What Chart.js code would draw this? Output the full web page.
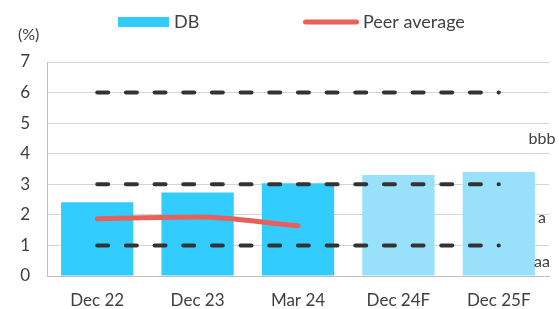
<!DOCTYPE html>
<html>
<head>
<meta charset="utf-8">
<script src="https://cdn.jsdelivr.net/npm/chart.js@4.4.0/dist/chart.umd.min.js"></script>
<style>
  html, body { margin: 0; padding: 0; background: #fff; }
  #wrap { width: 559px; height: 309px; }
</style>
</head>
<body>
<div id="wrap"><canvas id="myChart"></canvas></div>
<script>
var categories = ['Dec 22', 'Dec 23', 'Mar 24', 'Dec 24F', 'Dec 25F'];
var dbValues = [2.41, 2.73, 3.03, 3.3, 3.4];
var peerAverage = [1.87, 1.93, 1.64, null, null];
var ratingLines = [6, 3, 1];
var ratingLabels = ['bbb', 'a', 'aa'];
var ratingLabelValues = [4.5, 1.9, 0.45];
var yTicks = [0, 1, 2, 3, 4, 5, 6, 7];

var barColors = ['#33ccff', '#33ccff', '#33ccff', '#99e1fb', '#99e1fb'];
var textColor = '#404040';

// dashed rating lines, one dataset each
var dashSets = ratingLines.map(function (v) {
    return {
        type: 'line',
        label: 'rating ' + v,
        data: categories.map(function () { return v; }),
        borderColor: '#333333',
        borderWidth: 4,
        borderDash: [11, 17.67],
        borderCapStyle: 'round',
        pointRadius: 0,
        fill: false,
        order: 0
    };
});

// legend, "(%)" and the rating names on the right
var extraText = {
    id: 'extraText',
    afterDraw: function (chart) {
        var ctx = chart.ctx;
        var y = chart.scales.y;
        var ds = chart.data.datasets;
        ctx.save();
        ctx.textBaseline = 'middle';

        ctx.fillStyle = '#33ccff';
        ctx.fillRect(118, 17, 51, 10);
        ctx.strokeStyle = '#e8605a';
        ctx.lineWidth = 5;
        ctx.lineCap = 'round';
        ctx.beginPath();
        ctx.moveTo(305.5, 22);
        ctx.lineTo(356.5, 22);
        ctx.stroke();

        ctx.fillStyle = textColor;
        ctx.font = '18px Lato';
        ctx.textAlign = 'left';
        ctx.fillText(ds[0].label, 174, 22);
        ctx.fillText(ds[1].label, 363, 22);

        ctx.font = '16px Lato';
        ctx.fillText('(%)', 18, 35);

        ctx.textAlign = 'center';
        for (var i = 0; i < ratingLabels.length; i++) {
            ctx.fillText(ratingLabels[i], 542, y.getPixelForValue(ratingLabelValues[i]));
        }
        ctx.restore();
    }
};

window.onload = function () {
    var ctx = document.getElementById('myChart').getContext('2d');
    var myChart = new Chart(ctx, {
        type: 'bar',
        data: {
            labels: categories,
            datasets: [{
                label: 'DB',
                data: dbValues,
                backgroundColor: barColors,
                borderWidth: 0,
                categoryPercentage: 0.72,
                barPercentage: 1,
                order: 2
            }, {
                type: 'line',
                label: 'Peer average',
                data: peerAverage,
                borderColor: '#e8605a',
                borderWidth: 5,
                borderCapStyle: 'round',
                cubicInterpolationMode: 'monotone',
                pointRadius: 0,
                fill: false,
                order: 1
            }].concat(dashSets)
        },
        options: {
            responsive: true,
            maintainAspectRatio: false,
            animation: false,
            layout: { padding: { left: 0, right: 10, top: 62, bottom: 0 } },
            plugins: {
                tooltip: { enabled: false },
                legend: { display: false }
            },
            scales: {
                x: {
                    afterFit: function (axis) { axis.height = 33; },
                    grid: { display: false, drawTicks: false },
                    border: { display: true, color: '#bfbfbf', width: 1 },
                    ticks: { color: textColor, font: { family: 'Lato', size: 17 }, padding: 14 }
                },
                y: {
                    min: 0,
                    max: 7,
                    afterBuildTicks: function (axis) {
                        axis.ticks = yTicks.map(function (v) { return { value: v }; });
                    },
                    afterFit: function (axis) { axis.width = 47; },
                    grid: { color: '#d4d4d4', lineWidth: 1, drawTicks: false },
                    border: { display: true, color: '#bfbfbf', width: 1 },
                    ticks: { color: textColor, font: { family: 'Lato', size: 17 }, padding: 17 }
                }
            }
        },
        plugins: [extraText]
    });
};
</script>
</body>
</html>
